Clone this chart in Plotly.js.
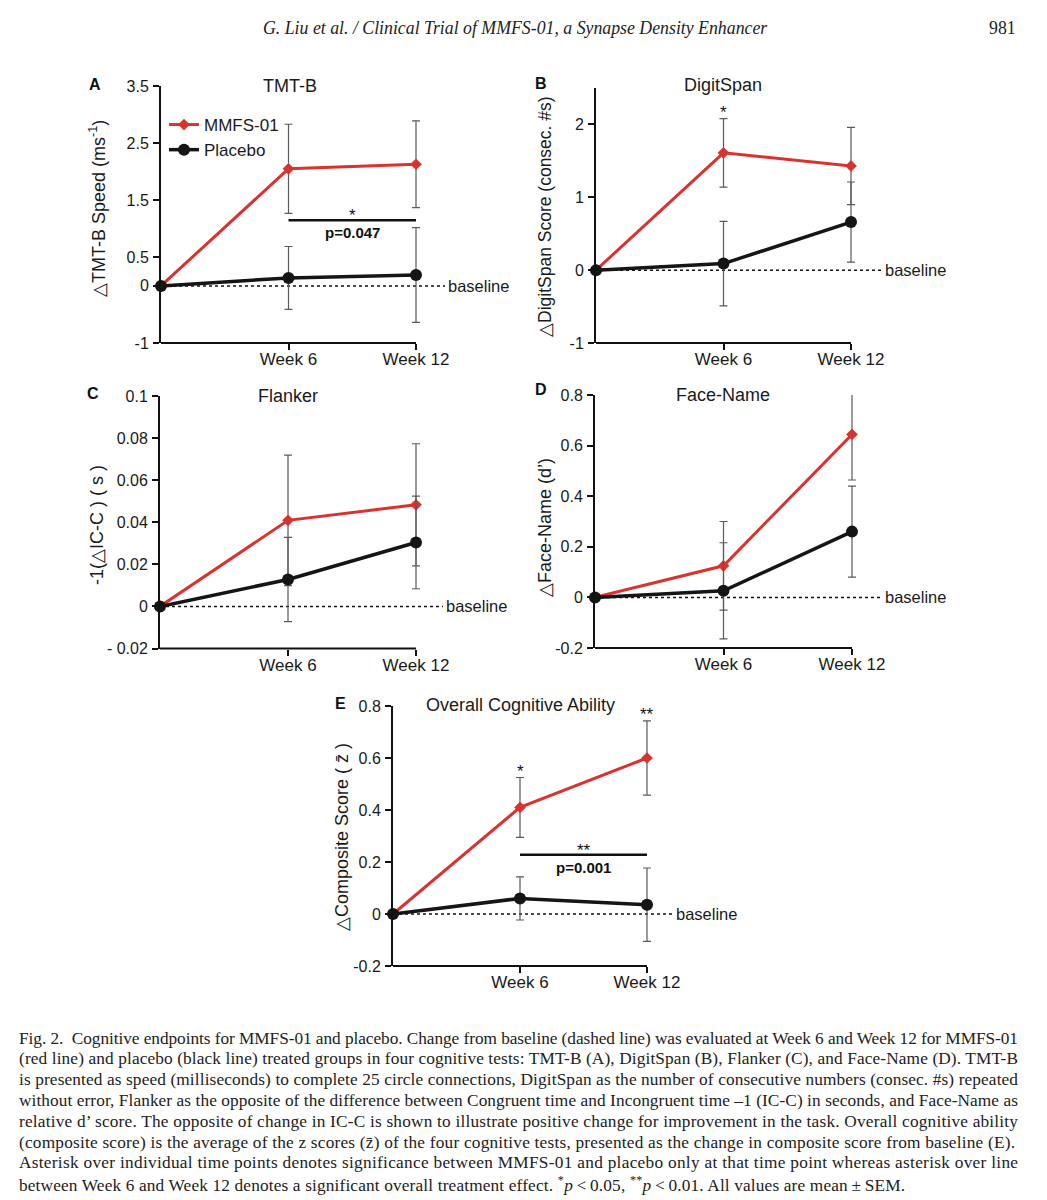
<!DOCTYPE html>
<html>
<head>
<meta charset="utf-8">
<script src="https://cdn.plot.ly/plotly-3.0.1.min.js"></script>
<style>
  html, body { margin: 0; padding: 0; background: #ffffff; }
  #chart { width: 1047px; height: 1200px; }
</style>
</head>
<body>
<div id="chart"></div>
<script>
// ---------------- DATA ----------------
const weeks = [0, 6, 12];
const weekTickVals = [6, 12];
const weekTickText = ['Week 6', 'Week 12'];
const seriesNames = ['MMFS-01', 'Placebo'];

// A: TMT-B
const tmtMMFS = [0, 2.05, 2.13];
const tmtMMFSErr = [0, 0.78, 0.76];
const tmtPlacebo = [0, 0.14, 0.19];
const tmtPlaceboErr = [0, 0.55, 0.83];
const tmtTicks = [-1, 0, 0.5, 1.5, 2.5, 3.5];
const tmtTickText = ['-1', '0', '0.5', '1.5', '2.5', '3.5'];
const tmtRange = [-1, 3.5];

// B: DigitSpan
const digitMMFS = [0, 1.61, 1.43];
const digitMMFSErr = [0, 0.47, 0.53];
const digitPlacebo = [0, 0.09, 0.66];
const digitPlaceboErr = [0, 0.58, 0.55];
const digitTicks = [-1, 0, 1, 2];
const digitTickText = ['-1', '0', '1', '2'];
const digitRange = [-1, 2.5];

// C: Flanker
const flankerMMFS = [0, 0.0409, 0.0483];
const flankerMMFSErr = [0, 0.031, 0.029];
const flankerPlacebo = [0, 0.0128, 0.0304];
const flankerPlaceboErr = [0, 0.020, 0.022];
const flankerTicks = [-0.02, 0, 0.02, 0.04, 0.06, 0.08, 0.1];
const flankerTickText = ['- 0.02', '0', '0.02', '0.04', '0.06', '0.08', '0.1'];
const flankerRange = [-0.02, 0.1];

// D: Face-Name
const faceMMFS = [0, 0.125, 0.644];
const faceMMFSErr = [0, 0.175, 0.18];
const facePlacebo = [0, 0.026, 0.26];
const facePlaceboErr = [0, 0.19, 0.18];
const faceTicks = [-0.2, 0, 0.2, 0.4, 0.6, 0.8];
const faceTickText = ['-0.2', '0', '0.2', '0.4', '0.6', '0.8'];
const faceRange = [-0.2, 0.8];

// E: Overall Cognitive Ability
const compMMFS = [0, 0.41, 0.60];
const compMMFSErr = [0, 0.115, 0.143];
const compPlacebo = [0, 0.06, 0.036];
const compPlaceboErr = [0, 0.083, 0.141];
const compTicks = [-0.2, 0, 0.2, 0.4, 0.6, 0.8];
const compTickText = ['-0.2', '0', '0.2', '0.4', '0.6', '0.8'];
const compRange = [-0.2, 0.8];

// significance
const tmtSigLevel = 1.15, tmtSigStar = '*', tmtSigP = 'p=0.047';
const compSigLevel = 0.228, compSigStar = '**', compSigP = 'p=0.001';
const digitPointStars = ['', '*', ''];
const compPointStars = ['', '*', '**'];

const panelTitles = ['TMT-B', 'DigitSpan', 'Flanker', 'Face-Name', 'Overall Cognitive Ability'];
const panelLetters = ['A', 'B', 'C', 'D', 'E'];
const yTitles = ['\u25B3TMT-B Speed (ms<sup>-1</sup>)', '\u25B3DigitSpan Score (consec. #s)',
  '-1(\u25B3IC-C ) ( s )', '\u25B3Face-Name (d\u2019)', '\u25B3Composite Score ( z\u0304 )'];

const headerText = 'G. Liu et al. / Clinical Trial of MMFS-01, a Synapse Density Enhancer';
const pageNumber = '981';
const captionLines = [
  'Fig. 2.  Cognitive endpoints for MMFS-01 and placebo. Change from baseline (dashed line) was evaluated at Week 6 and Week 12 for MMFS-01',
  '(red line) and placebo (black line) treated groups in four cognitive tests: TMT-B (A), DigitSpan (B), Flanker (C), and Face-Name (D). TMT-B',
  'is presented as speed (milliseconds) to complete 25 circle connections, DigitSpan as the number of consecutive numbers (consec. #s) repeated',
  'without error, Flanker as the opposite of the difference between Congruent time and Incongruent time \u20131 (IC-C) in seconds, and Face-Name as',
  'relative d\u2019 score. The opposite of change in IC-C is shown to illustrate positive change for improvement in the task. Overall cognitive ability',
  '(composite score) is the average of the z scores (z\u0304) of the four cognitive tests, presented as the change in composite score from baseline (E).',
  'Asterisk over individual time points denotes significance between MMFS-01 and placebo only at that time point whereas asterisk over line',
  'between Week 6 and Week 12 denotes a significant overall treatment effect. <sup>*</sup><i>p</i>\u2009<\u20090.05, <sup>**</sup><i>p</i>\u2009<\u20090.01. All values are mean\u2009\u00B1\u2009SEM.'
];

// ---------------- LAYOUT GEOMETRY (pixels) ----------------
const W = 1047, H = 1200;
const fx = px => px / W;
const fy = py => 1 - py / H;
const RED = '#d8332f';
const BLK = '#151515';
const SANS = 'Liberation Sans, Arial, Helvetica, sans-serif';
const SERIF = 'Liberation Serif, Times New Roman, serif';
const captionLeft = 17, captionTop = 1038, captionStep = 20.8;
const captionWidths = [999, 999, 999, 999, 999, 996, 999, 886];

const panels = [
  {left: 161, w12: 416, right: 445, top: 86, bottom: 343, range: tmtRange, ticks: tmtTicks, tickText: tmtTickText,
   m: tmtMMFS, me: tmtMMFSErr, p: tmtPlacebo, pe: tmtPlaceboErr,
   letter: [95, 85], title: [290, 86], ytitle: [97, 209]},
  {left: 596, w12: 851, right: 882, top: 88, bottom: 343, range: digitRange, ticks: digitTicks, tickText: digitTickText,
   m: digitMMFS, me: digitMMFSErr, p: digitPlacebo, pe: digitPlaceboErr,
   letter: [541, 83], title: [723, 85], ytitle: [545, 217]},
  {left: 160, w12: 416, right: 443, top: 396, bottom: 648.5, range: flankerRange, ticks: flankerTicks, tickText: flankerTickText,
   m: flankerMMFS, me: flankerMMFSErr, p: flankerPlacebo, pe: flankerPlaceboErr,
   letter: [93, 393], title: [288, 396], ytitle: [97, 525]},
  {left: 595, w12: 852, right: 882, top: 395, bottom: 648, range: faceRange, ticks: faceTicks, tickText: faceTickText,
   m: faceMMFS, me: faceMMFSErr, p: facePlacebo, pe: facePlaceboErr,
   letter: [541, 389], title: [723, 395], ytitle: [545, 528]},
  {left: 393, w12: 647, right: 673, top: 706, bottom: 966, range: compRange, ticks: compTicks, tickText: compTickText,
   m: compMMFS, me: compMMFSErr, p: compPlacebo, pe: compPlaceboErr,
   letter: [340, 703], title: [520, 705], ytitle: [342, 837]}
];

const traces = [];
const layout = {
  width: W, height: H,
  margin: {l: 0, r: 0, t: 0, b: 0},
  paper_bgcolor: '#ffffff', plot_bgcolor: 'rgba(0,0,0,0)',
  font: {family: SANS, color: '#1a1a1a'},
  showlegend: true,
  legend: {x: fx(164), y: fy(107), xanchor: 'left', yanchor: 'top', bgcolor: 'rgba(0,0,0,0)',
           font: {family: SANS, size: 17, color: '#1a1a1a'}, tracegroupgap: 0},
  shapes: [], annotations: []
};

panels.forEach((pn, i) => {
  const n = i + 1;
  const xa = 'x' + (n === 1 ? '' : n), ya = 'y' + (n === 1 ? '' : n);
  const xk = 'xaxis' + (n === 1 ? '' : n), yk = 'yaxis' + (n === 1 ? '' : n);
  const xmax = 12 * (pn.right - pn.left) / (pn.w12 - pn.left);
  layout[xk] = {
    domain: [fx(pn.left), fx(pn.right)], range: [0, xmax], anchor: ya,
    tickvals: weekTickVals, ticktext: weekTickText, ticks: 'outside', ticklen: 6, tickwidth: 2, tickcolor: '#111',
    ticklabelstandoff: -5,
    showline: false, showgrid: false, zeroline: false, fixedrange: true,
    tickfont: {family: SANS, size: 17, color: '#1a1a1a'}
  };
  layout[yk] = {
    domain: [fy(pn.bottom), fy(pn.top)], range: pn.range, anchor: xa,
    tickvals: pn.ticks, ticktext: pn.tickText, ticks: 'outside', ticklen: 6, tickwidth: 2, tickcolor: '#111',
    ticklabelstandoff: 1,
    showline: true, linewidth: 2, linecolor: '#111', showgrid: false, zeroline: false, fixedrange: true,
    tickfont: {family: SANS, size: 16, color: '#1a1a1a'}
  };
  const err = (arr) => ({type: 'data', array: arr, visible: true, color: '#5a5a5a', thickness: 1.2, width: 4});
  traces.push({
    x: weeks, y: pn.m, error_y: err(pn.me), xaxis: xa, yaxis: ya, type: 'scatter', mode: 'lines+markers',
    name: seriesNames[0], legendgroup: 'm', showlegend: n === 1, cliponaxis: false,
    line: {color: RED, width: 3}, marker: {symbol: 'diamond', size: 9, color: RED}
  });
  traces.push({
    x: weeks, y: pn.p, error_y: err(pn.pe), xaxis: xa, yaxis: ya, type: 'scatter', mode: 'lines+markers',
    name: seriesNames[1], legendgroup: 'p', showlegend: n === 1, cliponaxis: false,
    line: {color: BLK, width: 3.5}, marker: {symbol: 'circle', size: 12, color: BLK}
  });
  // bottom axis line (ends at Week 12)
  layout.shapes.push({type: 'line', xref: xa + ' domain', yref: ya + ' domain',
    x0: 0, x1: (pn.w12 - pn.left) / (pn.right - pn.left), y0: 0, y1: 0, line: {color: '#111', width: 2}});
  // dashed baseline
  layout.shapes.push({type: 'line', xref: xa, yref: ya, x0: 0, x1: xmax, y0: 0, y1: 0, layer: 'below',
    line: {color: '#111', width: 1.5, dash: '3px,3px'}});
  // baseline label
  layout.annotations.push({xref: 'paper', yref: ya, x: fx(pn.right + 1), y: 0, xanchor: 'left', yanchor: 'middle',
    text: 'baseline', showarrow: false, font: {family: SANS, size: 16.5, color: '#1a1a1a'}});
  // letter
  layout.annotations.push({xref: 'paper', yref: 'paper', x: fx(pn.letter[0]), y: fy(pn.letter[1]), xanchor: 'center', yanchor: 'middle',
    text: '<b>' + panelLetters[i] + '</b>', showarrow: false, font: {family: SANS, size: 16, color: '#111'}});
  // title
  layout.annotations.push({xref: 'paper', yref: 'paper', x: fx(pn.title[0]), y: fy(pn.title[1]), xanchor: 'center', yanchor: 'middle',
    text: panelTitles[i], showarrow: false, font: {family: SANS, size: 18, color: '#1a1a1a'}});
  // y title
  layout.annotations.push({xref: 'paper', yref: 'paper', x: fx(pn.ytitle[0]), y: fy(pn.ytitle[1]), xanchor: 'center', yanchor: 'middle',
    textangle: -90, text: yTitles[i], showarrow: false, font: {family: SANS, size: i === 1 ? 17.5 : 18, color: '#1a1a1a'}});
});

// significance bars
function sigBar(xa, ya, level, star, ptext) {
  layout.shapes.push({type: 'line', xref: xa, yref: ya, x0: weeks[1], x1: weeks[2], y0: level, y1: level,
    line: {color: '#111', width: 2.5}});
  layout.annotations.push({xref: xa, yref: ya, x: (weeks[1] + weeks[2]) / 2, y: level, yanchor: 'bottom', yshift: -7,
    text: star, showarrow: false, font: {family: SANS, size: 17, color: '#111'}});
  layout.annotations.push({xref: xa, yref: ya, x: (weeks[1] + weeks[2]) / 2, y: level, yanchor: 'top', yshift: -2,
    text: '<b>' + ptext + '</b>', showarrow: false, font: {family: SANS, size: 15, color: '#111'}});
}
sigBar('x', 'y', tmtSigLevel, tmtSigStar, tmtSigP);
sigBar('x5', 'y5', compSigLevel, compSigStar, compSigP);

function pointStars(xa, ya, stars, vals, errs) {
  stars.forEach((s, k) => {
    if (!s) return;
    layout.annotations.push({xref: xa, yref: ya, x: weeks[k], y: vals[k] + errs[k], yanchor: 'bottom', yshift: -5,
      text: s, showarrow: false, font: {family: SANS, size: 17, color: '#111'}});
  });
}
pointStars('x2', 'y2', digitPointStars, digitMMFS, digitMMFSErr);
pointStars('x5', 'y5', compPointStars, compMMFS, compMMFSErr);

// header
layout.annotations.push({xref: 'paper', yref: 'paper', x: fx(515), y: fy(28), xanchor: 'center', yanchor: 'middle',
  text: '<i>' + headerText + '</i>', showarrow: false, font: {family: SERIF, size: 17.8, color: '#222'}});
layout.annotations.push({xref: 'paper', yref: 'paper', x: fx(1018), y: fy(28), xanchor: 'right', yanchor: 'middle',
  text: pageNumber, showarrow: false, font: {family: SERIF, size: 17.8, color: '#222'}});

// caption
const captionIdx = [];
captionLines.forEach((t, k) => {
  captionIdx.push(layout.annotations.length);
  layout.annotations.push({xref: 'paper', yref: 'paper', x: fx(captionLeft), y: fy(captionTop + k * captionStep),
    xanchor: 'left', yanchor: 'middle', align: 'left',
    text: t, showarrow: false, font: {family: SERIF, size: 17.3, color: '#222'}});
});

Plotly.newPlot('chart', traces, layout, {displayModeBar: false, staticPlot: true}).then(() => {
  // justify caption lines like the printed page
  captionIdx.forEach((idx, k) => {
    const el = document.querySelector('#chart g.annotation[data-index="' + idx + '"] text.annotation-text');
    if (!el) return;
    el.setAttribute('textLength', captionWidths[k]);
    el.setAttribute('lengthAdjust', 'spacing');
  });
});
</script>
</body>
</html>
